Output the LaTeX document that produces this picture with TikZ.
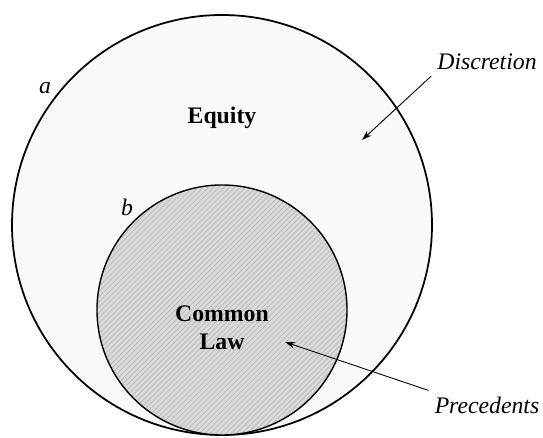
\documentclass[tikz,border=0pt]{standalone}
\usepackage{fontspec}
\setmainfont{Liberation Serif}
\usepackage{tikz}
\usetikzlibrary{positioning,arrows.meta,patterns}
\definecolor{paleFill}{HTML}{F9F9F9}
\definecolor{lawFill}{HTML}{DADADA}

\begin{document}
\begin{tikzpicture}[font=\fontsize{13.5}{15}\selectfont,
      ring/.style={draw,line width=1pt},
      tag/.style={font=\fontsize{13.5}{15}\selectfont\itshape},
      pointer/.style={-{Stealth[length=2mm,width=1.3mm]},line width=0.5pt}]
    \useasboundingbox (0,0) rectangle (10.86,8.76);
    \fill[white] (0,0) rectangle (10.86,8.76);

    \path[ring,fill=paleFill] (4.44,4.26) circle (4.2);
    \fill[lawFill] (4.44,2.56) circle (2.5);
    \fill[pattern=north east lines,pattern color=gray!55] (4.44,2.56) circle (2.5);
    \draw[line width=0.8pt] (4.44,2.56) circle (2.5);

    \node[tag] (a) at (0.9,7.0) {a};
    \node[tag] (b) at (2.54,4.62) {b};
    \node[font=\fontsize{13.5}{15}\selectfont\bfseries] (equity) at (4.44,6.40) {Equity};
    \node[font=\fontsize{13.5}{16}\selectfont\bfseries,align=center] (law) at (4.44,2.2) {Common \\ Law};

    \node[tag] (disc) at (9.74,7.52) {Discretion};
    \node[tag] (prec) at (9.74,0.66) {Precedents};
    \coordinate (discTip) at (7.24,5.96);
    \coordinate (precTip) at (5.7,1.92);

    \draw[pointer] (disc.south west) -- (discTip);
    \draw[pointer] (prec.north west) -- (precTip);
  \end{tikzpicture}
\end{document}
